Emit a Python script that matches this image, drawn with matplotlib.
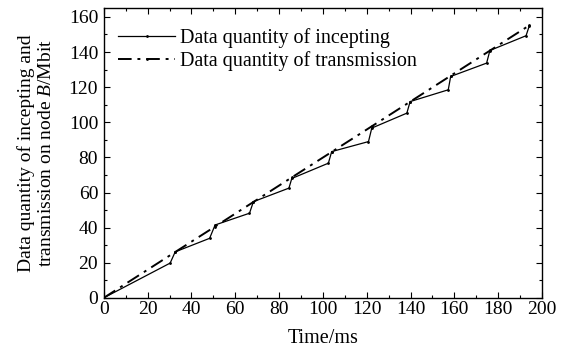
import matplotlib
matplotlib.use("Agg")
import matplotlib.pyplot as plt
from matplotlib.ticker import MultipleLocator

# incepting data (sawtooth)
t_incept = [0, 30.3, 32.6, 48.3, 50.8, 66.5, 68.3, 84.5, 85.8, 102.5, 104.0,
            120.8, 122.3, 138.3, 139.8, 157.2, 158.3, 174.7, 176.2, 192.7, 194.2]
q_incept = [0, 19.8, 26.2, 33.9, 41.5, 48.2, 54.8, 62.5, 68.0, 76.7, 83.3,
            89.0, 96.7, 105.2, 111.8, 118.5, 126.1, 133.7, 140.9, 149.3, 155.0]

# transmission data
t_trans = [0, 32.6, 50.8, 68.3, 85.8, 104.0, 122.3, 139.8, 158.3, 176.2, 194.2]
q_trans = [0, 26.1, 40.6, 54.6, 68.6, 83.1, 97.7, 111.7, 126.5, 140.8, 155.2]

labels = ["Data quantity of incepting", "Data quantity of transmission"]

plt.rcParams['font.family'] = ['Liberation Serif', 'DejaVu Serif']
plt.rcParams['mathtext.fontset'] = 'custom'
plt.rcParams['mathtext.it'] = 'Liberation Serif:italic'
plt.rcParams['mathtext.rm'] = 'Liberation Serif'

fig = plt.figure(figsize=(5.67, 3.55), dpi=100)
ax = fig.add_axes([0.183, 0.161, 0.773, 0.816])

ax.plot(t_incept, q_incept, color='black', lw=0.9, marker='.', markersize=2,
        label=labels[0])
ax.plot(t_trans, q_trans, color='black', lw=1.4, marker='.', markersize=2,
        dashes=(7, 3, 1.5, 3), label=labels[1])

ax.set_xlim(0, 200)
ax.set_ylim(0, 165)
ax.xaxis.set_major_locator(MultipleLocator(20))
ax.xaxis.set_minor_locator(MultipleLocator(10))
ax.yaxis.set_major_locator(MultipleLocator(20))
ax.yaxis.set_minor_locator(MultipleLocator(10))
ax.tick_params(which='both', direction='in', top=True, right=True,
               labelsize=14, width=0.8)
ax.tick_params(which='major', length=4)
ax.tick_params(which='minor', length=2)
ax.tick_params(axis='x', which='major', pad=2.5)
ax.tick_params(axis='y', which='major', pad=4)
for s in ax.spines.values():
    s.set_linewidth(1.0)

ax.set_xlabel("Time/ms", fontsize=14.5, labelpad=8)
ax.set_ylabel("Data quantity of incepting and\ntransmission on node $B$/Mbit",
              fontsize=14, labelpad=10, linespacing=1.25)

ax.legend(loc='upper left', frameon=False, fontsize=14.5, handlelength=2.8,
          numpoints=1, bbox_to_anchor=(0.006, 0.972), borderaxespad=0.2,
          handletextpad=0.25, labelspacing=0.15)

fig.savefig("out.png", dpi=100)
